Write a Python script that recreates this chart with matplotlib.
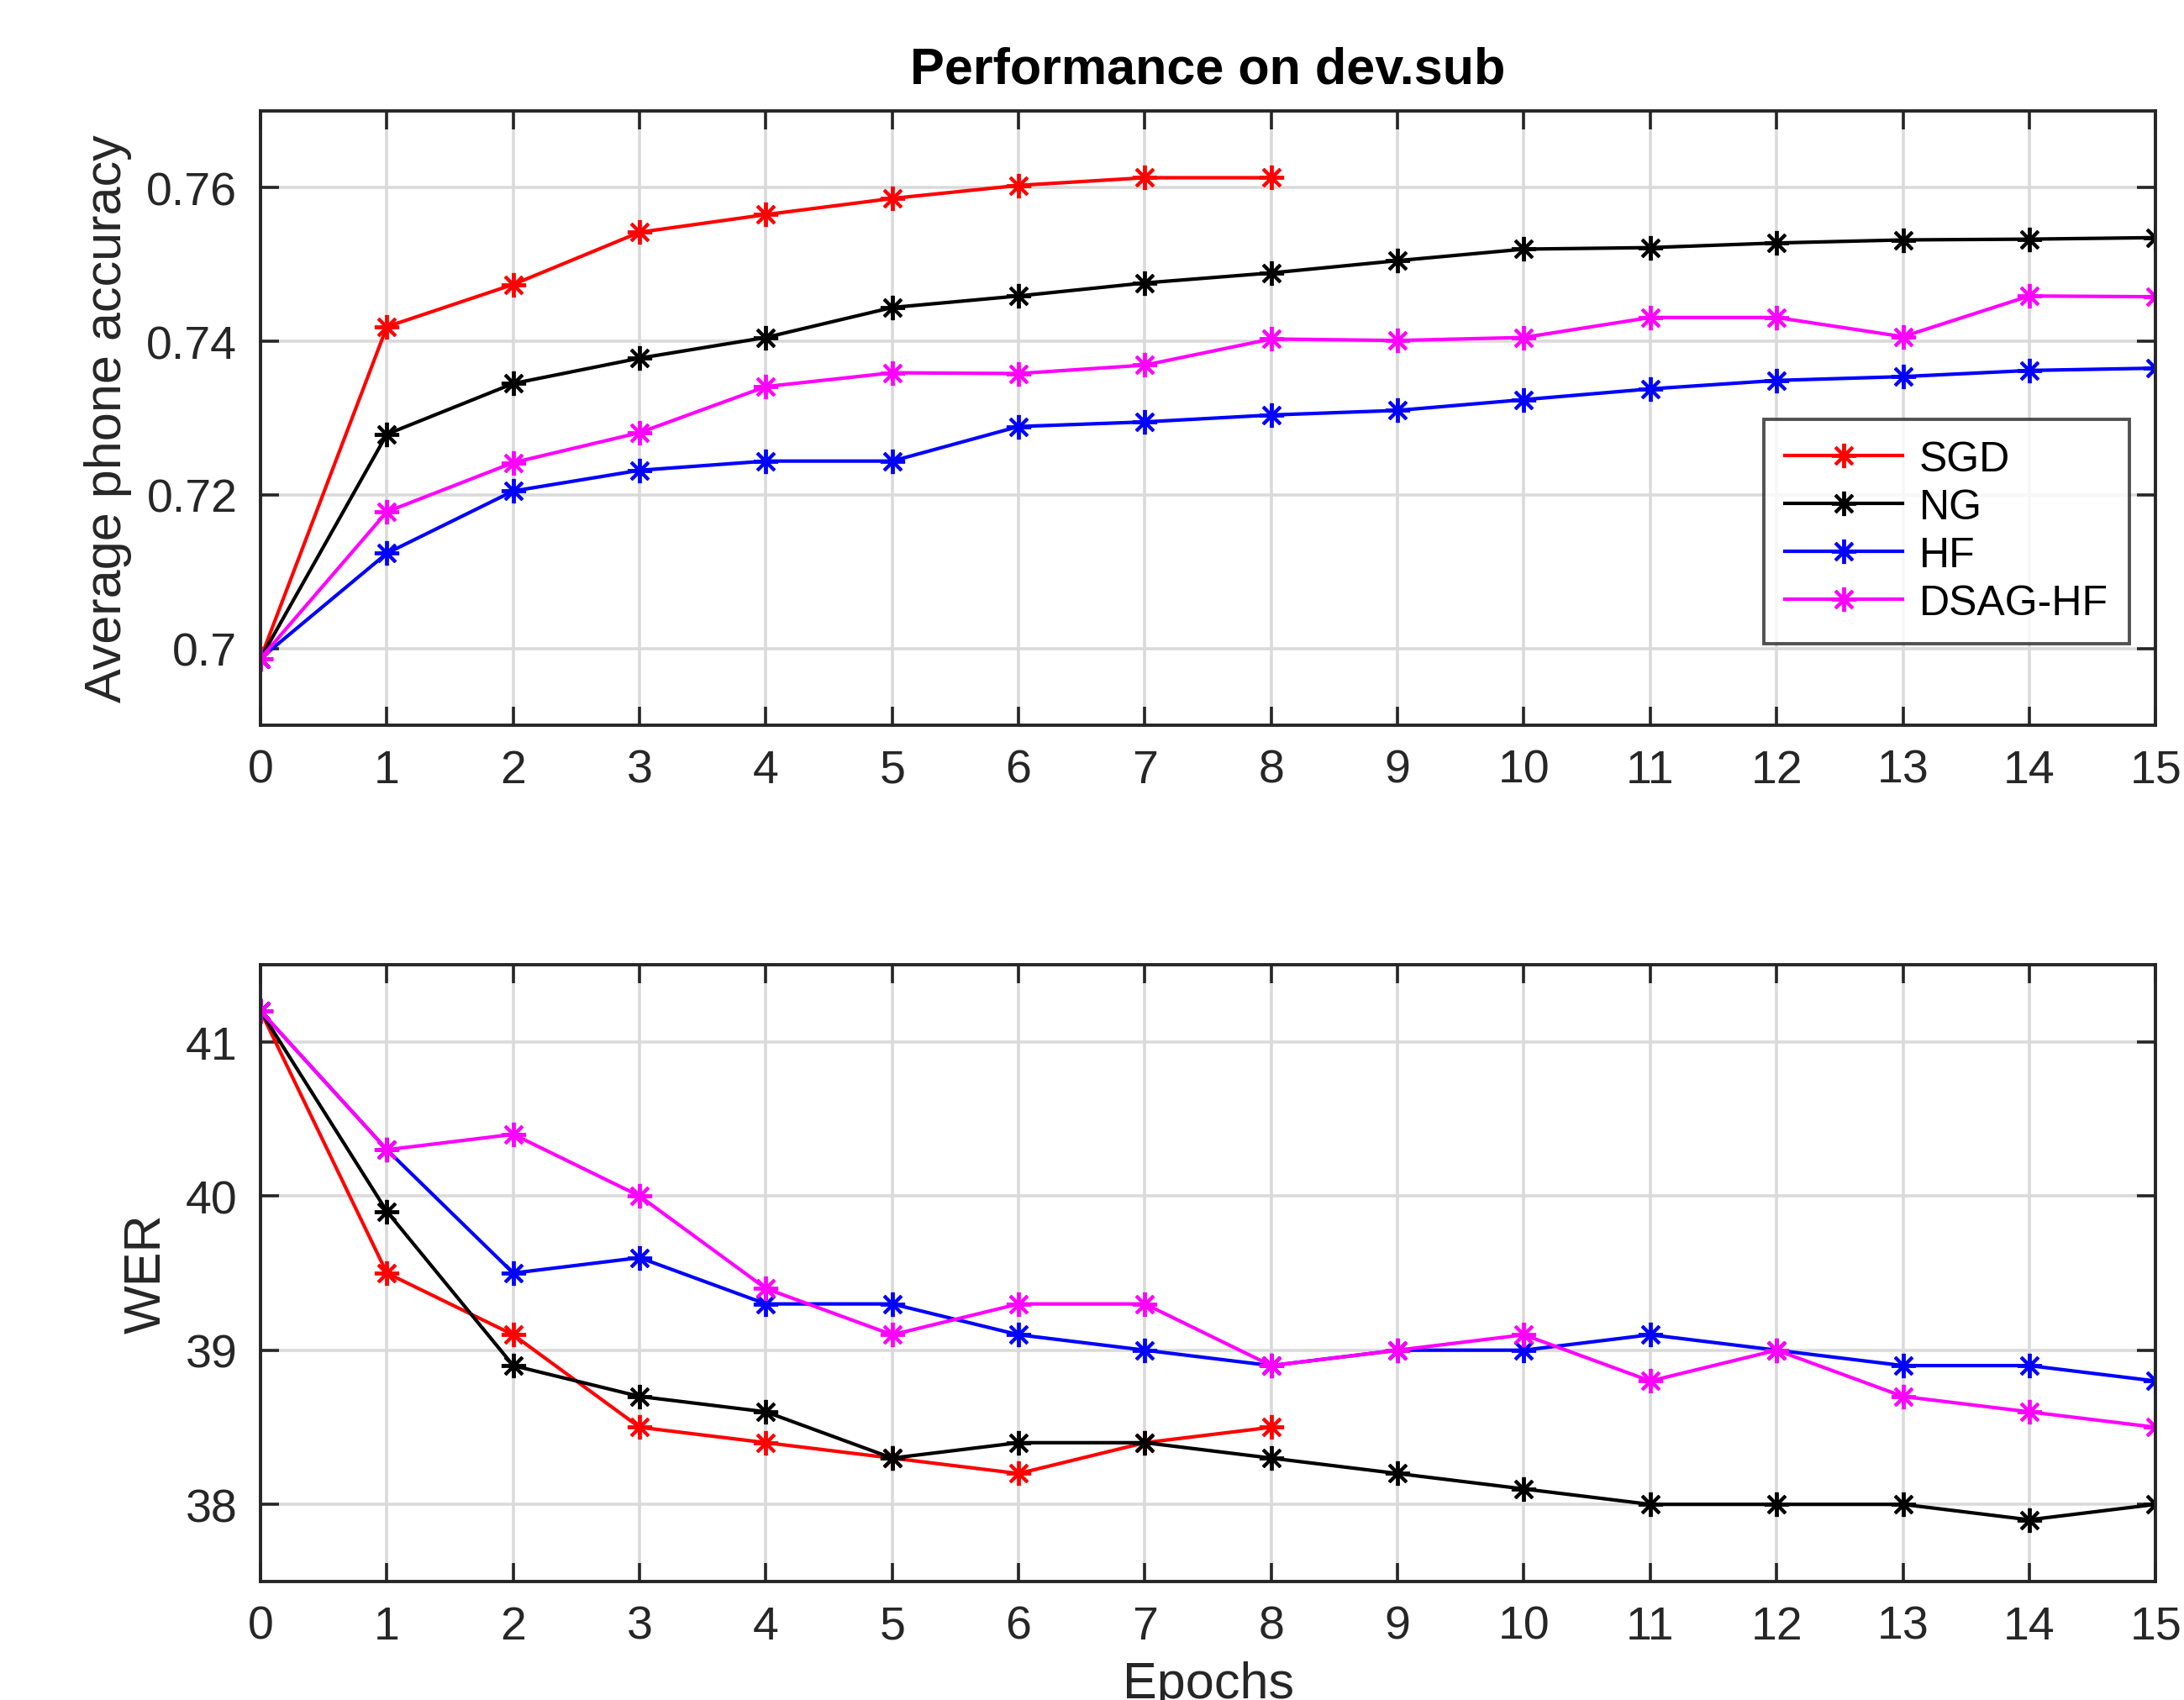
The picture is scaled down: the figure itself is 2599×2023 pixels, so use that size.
import numpy as np
import matplotlib
matplotlib.use("Agg")
import matplotlib.pyplot as plt

plt.rcParams['font.family'] = ['Liberation Sans', 'DejaVu Sans']

# Data
epochs = list(range(16))
sgd_epochs = list(range(9))

acc_sgd = [0.6987, 0.7419, 0.7474, 0.7542, 0.7565, 0.7586, 0.7603, 0.7613, 0.7613]
acc_ng = [0.6987, 0.7279, 0.7345, 0.7378, 0.7405, 0.7444, 0.7459, 0.7476, 0.7489,
          0.7505, 0.7520, 0.7522, 0.7528, 0.7532, 0.7533, 0.7535]
acc_hf = [0.6987, 0.7124, 0.7205, 0.7232, 0.7244, 0.7244, 0.7289, 0.7295, 0.7304,
          0.7310, 0.7324, 0.7338, 0.7349, 0.7354, 0.7362, 0.7365]
acc_dsag = [0.6987, 0.7178, 0.7242, 0.7281, 0.7341, 0.7359, 0.7358, 0.7369, 0.7403,
            0.7401, 0.7405, 0.7431, 0.7431, 0.7406, 0.7459, 0.7458]

wer_sgd = [41.2, 39.5, 39.1, 38.5, 38.4, 38.3, 38.2, 38.4, 38.5]
wer_ng = [41.2, 39.9, 38.9, 38.7, 38.6, 38.3, 38.4, 38.4, 38.3,
          38.2, 38.1, 38.0, 38.0, 38.0, 37.9, 38.0]
wer_hf = [41.2, 40.3, 39.5, 39.6, 39.3, 39.3, 39.1, 39.0, 38.9,
          39.0, 39.0, 39.1, 39.0, 38.9, 38.9, 38.8]
wer_dsag = [41.2, 40.3, 40.4, 40.0, 39.4, 39.1, 39.3, 39.3, 38.9,
            39.0, 39.1, 38.8, 39.0, 38.7, 38.6, 38.5]

labels = ['SGD', 'NG', 'HF', 'DSAG-HF']
colors = ['#ff0000', '#000000', '#0000ff', '#ff00ff']

axis_col = '#262626'
star = (8, 2, 0)

fig = plt.figure(figsize=(25.99, 20.24), dpi=100)
ax1 = fig.add_axes([0.1193, 0.5731, 0.8677, 0.3612])
ax2 = fig.add_axes([0.1193, 0.0697, 0.8677, 0.3626])


def style(ax):
    ax.set_xlim(0, 15)
    ax.set_xticks(epochs)
    ax.grid(True, color='#dadada', linewidth=2.6)
    ax.set_axisbelow(True)
    ax.tick_params(direction='in', length=16, width=2.6, colors=axis_col,
                   labelsize=40, pad=20, top=True, right=True)
    for s in ax.spines.values():
        s.set_color(axis_col)
        s.set_linewidth(2.8)


def draw(ax, series):
    for (xs, ys), c, lab in zip(series, colors, labels):
        ax.plot(xs, ys, color=c, linewidth=3.0, marker=star, markersize=21,
                markeredgewidth=2.8, label=lab)


draw(ax1, [(sgd_epochs, acc_sgd), (epochs, acc_ng), (epochs, acc_hf), (epochs, acc_dsag)])
style(ax1)
ax1.set_ylim(0.69, 0.77)
ax1.set_yticks([0.70, 0.72, 0.74, 0.76])
ax1.set_yticklabels(['0.7', '0.72', '0.74', '0.76'])
ax1.set_ylabel('Average phone accuracy', fontsize=44, color=axis_col, labelpad=12)
ax1.set_title('Performance on dev.sub', fontsize=44, fontweight='bold', pad=24)
leg = ax1.legend(loc='lower right', bbox_to_anchor=(0.986, 0.133), borderaxespad=0,
                 fontsize=36, frameon=True, fancybox=False, handlelength=2.8,
                 handletextpad=0.4, labelspacing=0.22, borderpad=0.5)
leg.get_frame().set_edgecolor(axis_col)
leg.get_frame().set_linewidth(2.8)

draw(ax2, [(sgd_epochs, wer_sgd), (epochs, wer_ng), (epochs, wer_hf), (epochs, wer_dsag)])
style(ax2)
ax2.set_ylim(37.5, 41.5)
ax2.set_yticks([38, 39, 40, 41])
ax2.set_ylabel('WER', fontsize=44, color=axis_col, labelpad=12)
ax2.set_xlabel('Epochs', fontsize=44, color=axis_col, labelpad=10)

fig.savefig('out.png', dpi=100)
